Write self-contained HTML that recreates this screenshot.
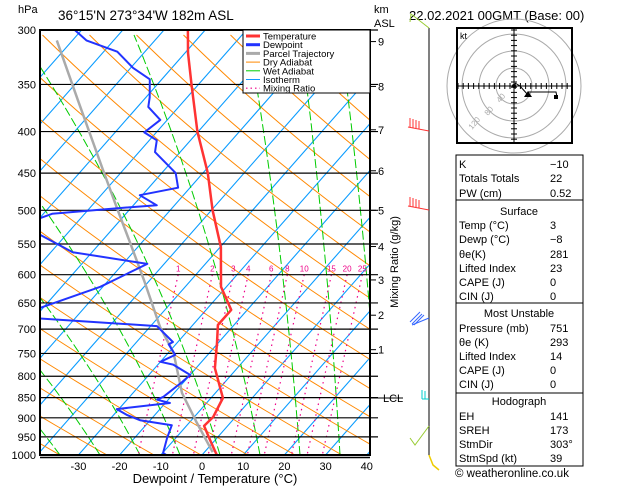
<!DOCTYPE html>
<html><head><meta charset="utf-8"><style>
body{margin:0;background:#fff;}
svg{display:block;font-family:"Liberation Sans",sans-serif;}
</style></head><body>
<svg id="c" width="629" height="486" viewBox="0 0 629 486" xmlns="http://www.w3.org/2000/svg">
<defs><clipPath id="pc"><rect x="40" y="30" width="330" height="425"/></clipPath></defs>
<g clip-path="url(#pc)">
<path d="M-374.8,455L-0.8,30M-333.6,455L40.4,30M-292.4,455L81.6,30M-251.2,455L122.8,30M-210,455L164,30M-168.8,455L205.2,30M-127.6,455L246.4,30M-86.4,455L287.6,30M-45.2,455L328.8,30M-4,455L370,30M37.2,455L411.2,30M78.4,455L452.4,30M119.6,455L493.6,30M160.8,455L534.8,30M202,455L576,30M243.2,455L617.2,30M284.4,455L658.4,30M325.6,455L699.6,30M366.8,455L740.8,30" fill="none" stroke="#0a9cff" stroke-width="1.1"/>
</g>
<g id="bg" clip-path="url(#pc)"></g>
<g id="isob"></g>
<g id="series" clip-path="url(#pc)"></g>
<rect x="40" y="30" width="330" height="425" fill="none" stroke="#000" stroke-width="2"/>
<line x1="40" y1="457.5" x2="370" y2="457.5" stroke="#000" stroke-width="1.5"/>
<text x="18" y="13" font-size="11">hPa</text>
<text x="58" y="20" font-size="13.5">36°15'N  273°34'W  182m  ASL</text>
<text x="374" y="13" font-size="11">km</text>
<text x="374" y="27" font-size="11">ASL</text>
<text x="409" y="20" font-size="13">22.02.2021  00GMT  (Base: 00)</text>
<text x="215" y="483" font-size="13" text-anchor="middle">Dewpoint / Temperature (°C)</text>
<text transform="translate(398,262) rotate(-90)" font-size="11" text-anchor="middle">Mixing Ratio (g/kg)</text>
<g id="legend">
<rect x="243" y="30" width="127" height="63" fill="#fff" stroke="#000" stroke-width="1"/>
</g>
<g id="km"></g>
<g id="xt"></g>
<g id="wind">
<line x1="429" y1="28" x2="429" y2="455" stroke="#000" stroke-width="1"/>
<polyline points="410,22 411,14 429,28" fill="none" stroke="#9c3" stroke-width="1"/>
<g stroke="#f33" stroke-width="1"><line x1="408" y1="127" x2="429" y2="131"/><line x1="410" y1="118" x2="410" y2="127"/><line x1="413" y1="119" x2="413" y2="128"/><line x1="416" y1="120" x2="416" y2="128"/><line x1="419" y1="121" x2="419" y2="129"/></g>
<g stroke="#f33" stroke-width="1"><line x1="408" y1="206" x2="429" y2="210"/><line x1="410" y1="197" x2="410" y2="206"/><line x1="413" y1="198" x2="413" y2="207"/><line x1="416" y1="199" x2="416" y2="207"/><line x1="419" y1="200" x2="419" y2="208"/></g>
<g stroke="#36f" stroke-width="1"><line x1="412" y1="325" x2="429" y2="318"/><line x1="410" y1="322" x2="420" y2="312"/><line x1="412" y1="324" x2="422" y2="314"/><line x1="414" y1="325" x2="424" y2="315"/></g>
<g stroke="#0cc" stroke-width="1"><line x1="422" y1="399" x2="429" y2="399"/><line x1="422" y1="390" x2="422" y2="399"/><line x1="425" y1="391" x2="425" y2="399"/></g>
<polyline points="410,438 415,445 429,426" fill="none" stroke="#9c3" stroke-width="1"/>
<polyline points="429,455 433,465 439,470" fill="none" stroke="#ec0" stroke-width="1.5"/>
</g>
<g id="hodo">
<rect x="457" y="28" width="115" height="115" fill="#fff" stroke="#000" stroke-width="2"/>
<g fill="none" stroke="#aaa" stroke-width="1"><circle cx="514" cy="86" r="18"/><circle cx="514" cy="86" r="35"/><circle cx="514" cy="86" r="52"/><circle cx="514" cy="86" r="67"/></g>
<rect x="457" y="28" width="115" height="115" fill="none" stroke="#000" stroke-width="2"/>
<line x1="458" y1="86" x2="571" y2="86" stroke="#000"/><line x1="514" y1="29" x2="514" y2="142" stroke="#000"/>
<g id="hticks" stroke="#000"></g>
<text x="460" y="39" font-size="9">kt</text>
<g fill="#aaa" font-size="8"><text transform="translate(500,103) rotate(-50)">40</text><text transform="translate(488,116) rotate(-50)">80</text><text transform="translate(472,130) rotate(-50)">120</text></g>
<polyline points="515,83 520,86 528,95 528,92 556,92 557,97" fill="none" stroke="#000"/>
<circle cx="514" cy="86" r="2" fill="#000"/><path d="M524,97 L528,91 L532,97Z" fill="#000"/><rect x="554" y="95" width="4" height="4" fill="#000"/>
</g>
<g id="table" font-size="11"></g>
<text x="455" y="477" font-size="11.5">© weatheronline.co.uk</text>
<script>
// --- chart data ---
const tempP=[300,320,350,400,450,500,555,621,663,692,728,782,851,898,921,958,1000];
const tempT=[-94.2,-89.3,-81.7,-70.2,-58.8,-49.7,-39.8,-31.3,-23.9,-23.9,-20.3,-15.4,-7.1,-5.4,-5.7,-1.3,3.6];
const dewP=[298,309,319,334,345,363,373,387,401,410,424,450,469,479,493,496,505,522,536,563,582,621,659,669,678,694,726,731,753,768,774,797,813,848,855,863,878,893,906,919,953,994,1000];
const dewT=[-122.8,-116.6,-106.7,-99.4,-92.9,-89.1,-87.4,-81.7,-82.9,-78.2,-76.1,-66.6,-62.9,-70.6,-64.3,-71.2,-87.9,-93.3,-86.3,-74.7,-54.1,-60.6,-70.7,-74.7,-71.0,-38.5,-31.2,-31.7,-27.9,-30.0,-26.3,-20.0,-20.4,-21.8,-22.7,-18.9,-30.5,-26.7,-22.5,-13.7,-12.1,-9.9,-8.7];
const parcelP=[309,366,446,500,548,609,696,748,839,913,992];
const parcelT=[-123.8,-105.9,-84.9,-72.7,-62.8,-51.5,-37.5,-28.8,-18.1,-8.1,2.0];
const pLevels=[300,350,400,450,500,550,600,650,700,750,800,850,900,950,1000];
const xTicks=[-30,-20,-10,0,10,20,30,40];
const mixLabels=["1","2","3","4","6","8","10","15","20","25"];
const mixLabelT=[-44.3,-36.0,-30.9,-27.3,-21.7,-17.8,-13.7,-7.1,-3.3,0.4];
const kmLabels=["9","8","7","6","5","4","3","2","1"];
const kmP=[310,352,398,447,500,554,609,673,742];
const tableRows=[["K","−10",164],["Totals Totals","22",178],["PW (cm)","0.52",193],["Surface","",211],["Temp (°C)","3",225],["Dewp (°C)","−8",239],["θe(K)","281",254],["Lifted Index","23",268],["CAPE (J)","0",282],["CIN (J)","0",296],["Most Unstable","",313],["Pressure (mb)","751",328],["θe (K)","293",342],["Lifted Index","14",356],["CAPE (J)","0",370],["CIN (J)","0",384],["Hodograph","",401],["EH","141",416],["SREH","173",430],["StmDir","303°","444"],["StmSpd (kt)","39",458]];
// --- axes ---
const NS="http://www.w3.org/2000/svg";
function Y(p){return 30+425*Math.log(p/300)/Math.log(1000/300);}
function X(t,p){return 202+4.12*t+0.88*(455-Y(p));}
function mk(tag,at,parent){const e=document.createElementNS(NS,tag);for(const k in at)e.setAttribute(k,at[k]);parent.appendChild(e);return e;}
const bg=document.getElementById('bg');
// dry adiabats
for(let k=-2;k<=20;k++){const x0=60+47*k;let pts=[];for(let d=0;d<=425;d+=15){pts.push((x0-(1.76*d-0.76*d*d/850)).toFixed(1)+','+(455-d));}
const l=mk('polyline',{points:pts.join(' '),fill:'none',stroke:'#f80','stroke-width':1},bg);

}
// wet adiabats
for(let k=-6;k<=8;k++){const x0=60+40*k;const a0=Math.max(0.06,0.75-(x0-60)*0.0028);let pts=[];let x=x0;for(let d=0;d<=425;d+=10){pts.push(x.toFixed(1)+','+(455-d));x-=10*a0*(1+d/425*1.2);}
const l=mk('polyline',{points:pts.join(' '),fill:'none',stroke:'#0c0','stroke-width':1,'stroke-dasharray':'9,3'},bg);

}
// mixing ratio
mixLabelT.forEach((t,i)=>{const mx=X(t,600);const l=mk('line',{x1:mx,y1:Y(600),x2:mx-40,y2:455,stroke:'#e08','stroke-width':1.2,'stroke-dasharray':'1.5,4'},bg);


const tx=mk('text',{x:mx,y:Y(600)-3,'font-size':8,fill:'#e08','text-anchor':'middle'},bg);tx.textContent=mixLabels[i];

});
// isobars
const isob=document.getElementById('isob');
pLevels.forEach(p=>{const y=Y(p);const l=mk('line',{x1:40,y1:y,x2:p===1000?370:378,y2:y,stroke:'#000','stroke-width':1.2},isob);


const t=mk('text',{x:36,y:y+4,'font-size':11,'text-anchor':'end'},isob);t.textContent=p;

});
// km axis
const kmg=document.getElementById('km');
kmP.forEach((p,i)=>{const y=Y(p);mk('line',{x1:370,y1:y,x2:376,y2:y,stroke:'#000'},kmg);const t=mk('text',{x:378,y:y+4,'font-size':11},kmg);t.textContent=kmLabels[i];

});
mk('line',{x1:370,y1:Y(851),x2:403,y2:Y(851),stroke:'#000'},kmg);
const lcl=mk('text',{x:383,y:Y(851)+4,'font-size':11},kmg);lcl.textContent='LCL';


// x ticks
const xtg=document.getElementById('xt');
xTicks.forEach(t=>{const x=X(t,1000);const e=mk('text',{x:x,y:470,'font-size':11,'text-anchor':'middle'},xtg);e.textContent=t;

});
// series
const sg=document.getElementById('series');
function series(P,T,col,w,name){const pts=P.map((p,i)=>X(T[i],p).toFixed(1)+','+Y(p).toFixed(1)).join(' ');const l=mk('polyline',{points:pts,fill:'none',stroke:col,'stroke-width':w,'stroke-linejoin':'round'},sg);

}
series(parcelP,parcelT,'#aaa',2.5,'parcel-trajectory');
series(dewP,dewT,'#23f',2,'dewpoint-line');
series(tempP,tempT,'#f33',2.5,'temperature-line');
// legend
const lg=document.getElementById('legend');
const lgItems=[["Temperature","#f33",3,""],["Dewpoint","#23f",3,""],["Parcel Trajectory","#aaa",3,""],["Dry Adiabat","#f80",1,""],["Wet Adiabat","#0c0",1,""],["Isotherm","#19f",1,""],["Mixing Ratio","#e08",1.2,"1.5,3"]];
lgItems.forEach((it,i)=>{const y=36+i*8.7;mk('line',{x1:246,y1:y,x2:260,y2:y,stroke:it[1],'stroke-width':it[2],'stroke-dasharray':it[3]||'none'},lg);const t=mk('text',{x:263,y:y+3.5,'font-size':9.5},lg);t.textContent=it[0];

});
// hodograph ticks
const ht=document.getElementById('hticks');
for(let d=-56;d<=56;d+=5.2){if(Math.abs(d)<1)continue;mk('line',{x1:514+d,y1:83,x2:514+d,y2:89},ht);mk('line',{x1:511,y1:86+d,x2:517,y2:86+d},ht);}
// table
const tb=document.getElementById('table');
mk('rect',{x:456,y:155,width:127,height:311,fill:'none',stroke:'#000','stroke-width':1},tb);
[200,303,393].forEach(y=>mk('line',{x1:456,y1:y,x2:583,y2:y,stroke:'#000'},tb));
tableRows.forEach(r=>{const y=+r[2]+4;if(r[1]===""){const t=mk('text',{x:519,y:y,'text-anchor':'middle'},tb);t.textContent=r[0];

}else{const a=mk('text',{x:459,y:y},tb);a.textContent=r[0];


const b=mk('text',{x:550,y:y},tb);b.textContent=r[1];

}});
</script>
</svg>
</body></html>
